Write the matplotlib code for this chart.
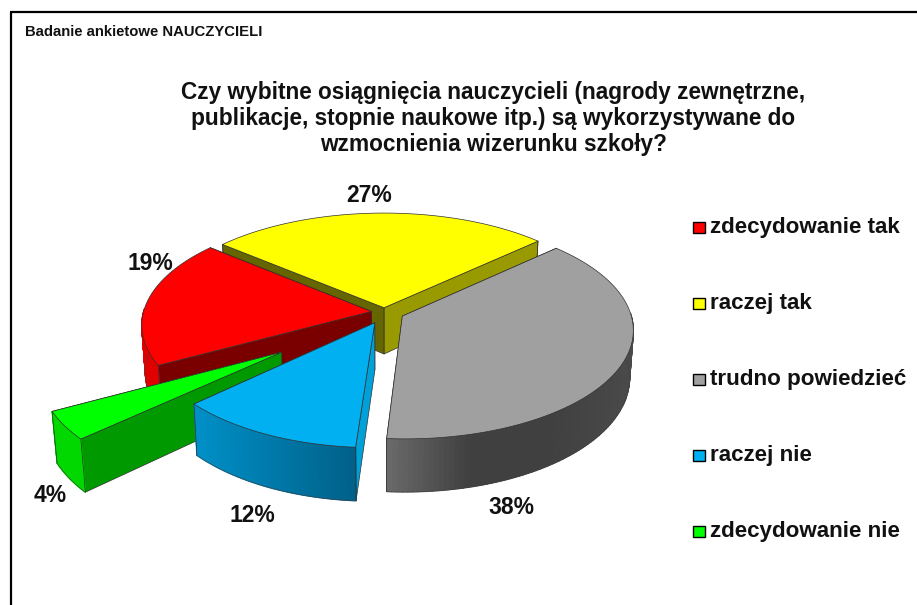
import numpy as np
import matplotlib
matplotlib.use("Agg")
import matplotlib.pyplot as plt
from matplotlib.patches import Polygon, Rectangle
from matplotlib.colors import to_rgb

plt.rcParams['font.family'] = ['Liberation Sans', 'DejaVu Sans']

# --- data ---
categories = ["zdecydowanie tak", "raczej tak", "trudno powiedzieć", "raczej nie", "zdecydowanie nie"]
values = [19, 27, 38, 12, 4]
value_labels = ["19%", "27%", "38%", "12%", "4%"]
title_lines = ["Czy wybitne osiągnięcia nauczycieli (nagrody zewnętrzne,",
               "publikacje, stopnie naukowe itp.) są wykorzystywane do",
               "wzmocnienia wizerunku szkoły?"]
heading = "Badanie ankietowe NAUCZYCIELI"

# --- style ---
top_colors = ["#FF0000", "#FFFF00", "#A0A0A0", "#00B0F0", "#00FF00"]
start_radial = ["#7A0000", "#666600", "#707070", "#00A0D8", "#009900"]   # clockwise-first edge
end_radial = ["#7A0000", "#999900", "#707070", "#009CD4", "#00D800"]
wall_stops = [["#E00000", "#E00000"], ["#999900", "#999900"],
              ["#6A6A6A", "#404040", "#404040", "#4A4A4A"],
              ["#0090C8", "#006088"], ["#00D800", "#00D800"]]
explode_x = [-0.055, 0.0, 0.08, -0.04, -0.43]
explode_y = [0.005, 0.04, -0.038, -0.10, -0.36]
slice_rx = [1.0, 1.0, 1.0, 0.975, 1.0]
draw_order = [1, 0, 2, 4, 3]
CX, CY, RX, RY, K, DEPTH, BOTTOM = 384, 312, 228, 107, 0.12, 46.5, 0.985
START_ANGLE = 208.4
label_pos = [(150, 264), (369, 196), (511, 508), (252, 516), (50, 496)]
legend_y = [228, 304, 380, 456, 532]


def project(X, Y, lower=False):
    s = 1.0 / (1.0 + K * Y)
    x = RX * X * s
    y = CY - RY * Y * s
    if lower:
        return CX + x * BOTTOM, y + DEPTH * s
    return CX + x, y


def ramp(stops, t):
    cols = np.array([to_rgb(c) for c in stops])
    pos = np.linspace(0, 1, len(stops))
    return tuple(np.interp(t, pos, cols[:, i]) for i in range(3))


fig = plt.figure(figsize=(9.17, 6.05), dpi=100, facecolor="white")
ax = fig.add_axes([0, 0, 1, 1])
ax.set_xlim(0, 917)
ax.set_ylim(605, 0)
ax.axis("off")

# border: left and top only reach the image edge
ax.plot([10.5, 10.5], [605, 12], color="black", lw=1.6, solid_capstyle="butt")
ax.plot([9.5, 917], [12, 12], color="black", lw=1.6, solid_capstyle="butt")

fractions = np.array(values, float) / sum(values)
edges = START_ANGLE - np.concatenate([[0], np.cumsum(fractions)]) * 360
EDGE = dict(edgecolor="#303030", linewidth=0.5, joinstyle="round")

z = 3.0
for i in draw_order:
    a0, a1 = np.radians(edges[i]), np.radians(edges[i + 1])
    ox, oy = explode_x[i], explode_y[i]
    th = np.linspace(a0, a1, 120)
    X = ox + slice_rx[i] * np.cos(th)
    Y = oy + np.sin(th)
    tx, ty = project(X, Y)
    bx, by = project(X, Y, True)
    ax_, ay_ = project(ox, oy)
    lx, ly = project(ox, oy, True)
    # radial side faces: the far one first
    ax.add_patch(Polygon([(ax_, ay_), (tx[-1], ty[-1]), (bx[-1], by[-1]), (lx, ly)],
                         facecolor=end_radial[i], zorder=z, **EDGE))
    ax.add_patch(Polygon([(ax_, ay_), (tx[0], ty[0]), (bx[0], by[0]), (lx, ly)],
                         facecolor=start_radial[i], zorder=z + 0.1, **EDGE))
    # curved outer wall, only where it faces the viewer, with a colour ramp
    front = np.sin(th) <= 0.03
    xmin, xmax = tx.min(), tx.max()
    for j in range(len(th) - 1):
        if not (front[j] and front[j + 1]):
            continue
        t = ((tx[j] + tx[j + 1]) / 2 - xmin) / max(xmax - xmin, 1)
        c = ramp(wall_stops[i], t)
        ax.add_patch(Polygon([(tx[j], ty[j]), (tx[j + 1], ty[j + 1]),
                              (bx[j + 1], by[j + 1]), (bx[j], by[j])],
                             facecolor=c, edgecolor=c, linewidth=0.9, zorder=z + 0.2))
    if front.any():
        ax.plot(bx[front], by[front], color="#404040", lw=0.4, zorder=z + 0.3)
    ax.plot([tx[0], bx[0]], [ty[0], by[0]], color="#303030", lw=0.5, zorder=z + 0.3)
    ax.plot([tx[-1], bx[-1]], [ty[-1], by[-1]], color="#303030", lw=0.5, zorder=z + 0.3)
    # top face
    ax.add_patch(Polygon(np.column_stack([np.r_[ax_, tx], np.r_[ay_, ty]]),
                         facecolor=top_colors[i], zorder=z + 0.4, **EDGE))
    z += 1

for (x, y), s in zip(label_pos, value_labels):
    ax.text(x, y, s, ha="center", va="center", fontsize=16.5, fontweight="bold", color="#111111", zorder=20)

ax.text(25, 31.5, heading, ha="left", va="center", fontsize=10.7, fontweight="bold", color="#111111")
for y, s in zip([93, 118, 144], title_lines):
    ax.text(493, y, s, ha="center", va="center", fontsize=16.25, fontweight="bold", color="#111111")

for y, s, c in zip(legend_y, categories, top_colors):
    ax.add_patch(Rectangle((692.5, y - 6.5), 12, 11, facecolor=c, edgecolor="black", linewidth=1.0))
    ax.text(710, y, s, ha="left", va="center", fontsize=16.1, fontweight="bold", color="#111111")

fig.savefig("out.png", dpi=100)
